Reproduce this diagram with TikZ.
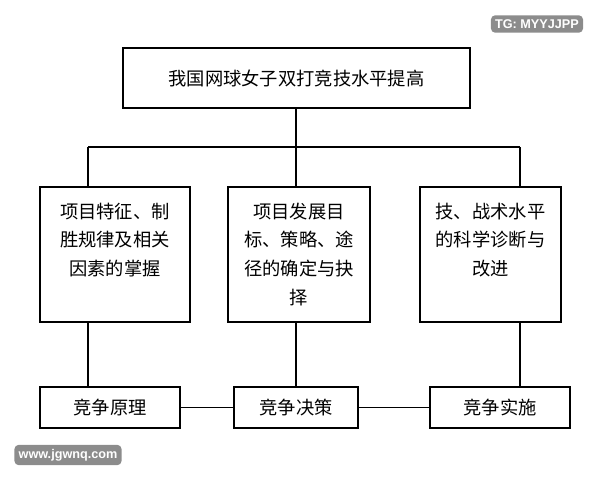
\documentclass[tikz,border=0pt]{standalone}
\usepackage{fontspec}
\setmainfont{Liberation Sans}
\newfontfamily\cjk{Noto Sans CJK SC}
\usetikzlibrary{calc}
\tikzset{
  box/.style={draw, line width=0.9pt, inner sep=0pt},
  label/.style={font=\cjk\fontsize{13}{20.5}\selectfont, align=center, anchor=north, inner sep=0pt},
  link/.style={line width=0.9pt},
  wmark/.style={fill=black!45, rounded corners=3pt, text=white, font=\bfseries\fontsize{9}{10}\selectfont, inner sep=3pt}
}
\begin{document}
\begin{tikzpicture}[x=0.025cm, y=-0.025cm]
    \useasboundingbox (0, 0) rectangle (600, 480);

    % Top goal
    \node[box, minimum width=347*0.025cm, minimum height=60*0.025cm] (goal) at (296.5, 78) {};
    \node[label, anchor=center] (goaltext) at (goal) {我国网球女子双打竞技水平提高};

    % Three work areas
    \node[box, minimum width=150*0.025cm, minimum height=135*0.025cm] (areaA) at (115, 254.5) {};
    \node[box, minimum width=142*0.025cm, minimum height=135*0.025cm] (areaB) at (299, 254.5) {};
    \node[box, minimum width=141*0.025cm, minimum height=135*0.025cm] (areaC) at (490.5, 254.5) {};
    \node[label] at ($(areaA.north)+(0, 16)$) {项目特征、制\\胜规律及相关\\因素的掌握};
    \node[label] at ($(areaB.north)+(0, 16)$) {项目发展目\\标、策略、途\\径的确定与抉\\择};
    \node[label] at ($(areaC.north)+(0, 16)$) {技、战术水平\\的科学诊断与\\改进};

    % Competition steps
    \node[box, minimum width=140*0.025cm, minimum height=41*0.025cm] (stepA) at (110, 407.5) {};
    \node[box, minimum width=124*0.025cm, minimum height=41*0.025cm] (stepB) at (296, 407.5) {};
    \node[box, minimum width=140*0.025cm, minimum height=41*0.025cm] (stepC) at (500, 407.5) {};
    \node[label, anchor=center] at (stepA) {竞争原理};
    \node[label, anchor=center] at (stepB) {竞争决策};
    \node[label, anchor=center] at (stepC) {竞争实施};

    % Tree connectors
    \coordinate (fork) at (296, 147);
    \coordinate (forkA) at (88, 147);
    \coordinate (forkC) at (520, 147);
    \draw[link] (goal.south -| fork) -- (fork);
    \draw[link] (forkA) -- (forkC);
    \draw[link] (forkA) -- (forkA |- areaA.north);
    \draw[link] (fork) -- (fork |- areaB.north);
    \draw[link] (forkC) -- (forkC |- areaC.north);
    \draw[link] (areaA.south -| forkA) -- (forkA |- stepA.north);
    \draw[link] (areaB.south -| fork) -- (fork |- stepB.north);
    \draw[link] (areaC.south -| forkC) -- (forkC |- stepC.north);
    \draw[link] (stepA) -- (stepB);
    \draw[link] (stepB) -- (stepC);

    % Watermarks
    \node[wmark] (tg) at (537, 24) {TG: MYYJJPP};
    \node[wmark] (www) at (68, 455) {www.jgwnq.com};
\end{tikzpicture}
\end{document}
